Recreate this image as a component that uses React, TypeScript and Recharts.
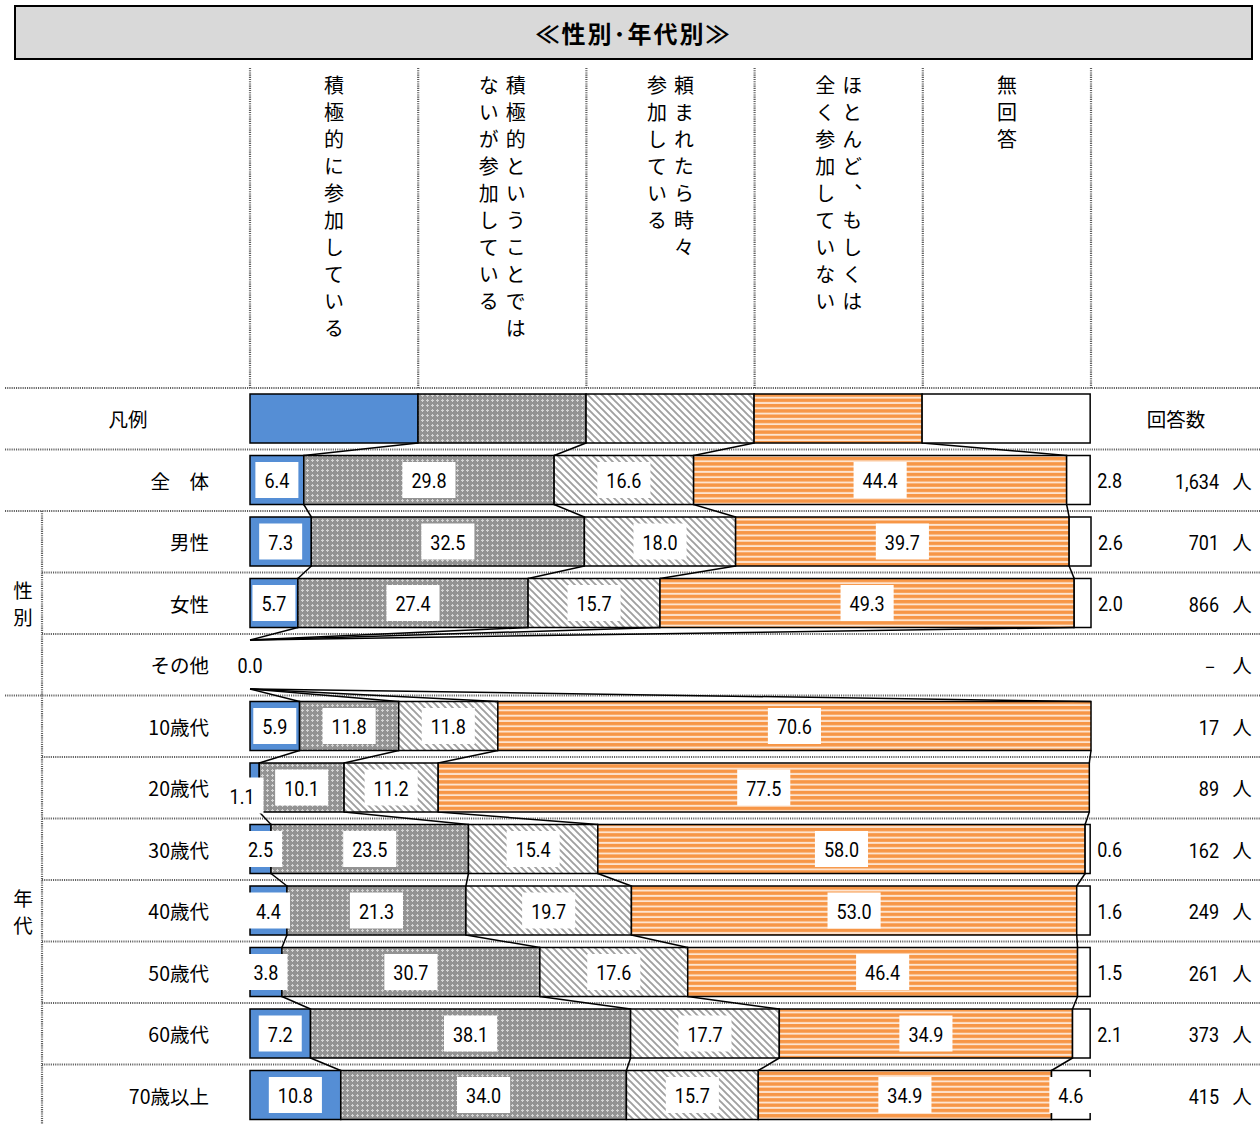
import React from 'react';
import { BarChart, Bar, XAxis, YAxis } from 'recharts';

const JP = "'Noto Sans CJK JP', 'Noto Sans', sans-serif";
const NUM = "Roboto, 'Liberation Sans', sans-serif";

const title = '≪性別･年代別≫';
const categories = ['凡例', '全　体', '男性', '女性', 'その他', '10歳代', '20歳代', '30歳代', '40歳代', '50歳代', '60歳代', '70歳以上'];
const seriesKeys = ['active', 'partly', 'sometimes', 'never', 'noAnswer'];
const seriesNames = [
  '積極的に参加している',
  '積極的ということでは\nないが参加している',
  '頼まれたら時々\n参加している',
  'ほとんど、もしくは\n全く参加していない',
  '無回答',
];
const active = [20, 6.4, 7.3, 5.7, 0, 5.9, 1.1, 2.5, 4.4, 3.8, 7.2, 10.8];
const partly = [20, 29.8, 32.5, 27.4, 0, 11.8, 10.1, 23.5, 21.3, 30.7, 38.1, 34.0];
const sometimes = [20, 16.6, 18.0, 15.7, 0, 11.8, 11.2, 15.4, 19.7, 17.6, 17.7, 15.7];
const never = [20, 44.4, 39.7, 49.3, 0, 70.6, 77.5, 58.0, 53.0, 46.4, 34.9, 34.9];
const noAnswer = [20, 2.8, 2.6, 2.0, 0, 0, 0, 0.6, 1.6, 1.5, 2.1, 4.6];
const respondents = ['', '1,634', '701', '866', '－', '17', '89', '162', '249', '261', '373', '415'];
const unitLabel = '人';
const countHeader = '回答数';
const groups = [
  { label: '性別', from: 2, to: 4 },
  { label: '年代', from: 5, to: 11 },
];

const seriesValues = [active, partly, sometimes, never, noAnswer];
const data = categories.map((name, i) => {
  const row: Record<string, any> = { name };
  seriesKeys.forEach((k, s) => {
    row[k] = seriesValues[s][i];
  });
  return row;
});

const FILLS = ['#558ED5', 'url(#pDots)', 'url(#pHatch)', 'url(#pStripe)', '#FFFFFF'];

// layout
const W = 1260;
const H = 1124;
const PLOT_TOP = 388;
const PLOT_LEFT = 250;
const PLOT_RIGHT_MARGIN = 169;
const CHART_H = 738;
const STEP = CHART_H / categories.length;
const PLOT_W = W - PLOT_LEFT - PLOT_RIGHT_MARGIN;
const NUM_SX = 0.9;

type G = { x: number; y: number; w: number; h: number };
const geom: G[][] = [[], [], [], [], []];

const fmt = (v: number) => v.toFixed(1);
const textW = (s: string) => s.split('').reduce((a, c) => a + (c === '.' || c === ',' ? 4.8 : 10.1), 0);

function NumText({ x, y, anchor, children }: { x: number; y: number; anchor: 'start' | 'middle' | 'end'; children: any }) {
  return (
    <text
      x={0}
      y={0}
      transform={`translate(${x},${y + 1.5}) scale(${NUM_SX},1)`}
      textAnchor={anchor}
      dominantBaseline="central"
      fontFamily={NUM}
      fontSize={20}
      fill="#000"
    >
      {children}
    </text>
  );
}

function renderLabels(row: number) {
  if (row === 0) return null;
  const out: any[] = [];
  for (let k = 0; k < 5; k++) {
    const g = geom[k][row];
    if (!g) continue;
    const v = seriesValues[k][row];
    if (v === 0 && k !== 0) continue;
    const s = fmt(v);
    const tw = textW(s);
    let cx = g.x + g.w / 2;
    let cy = g.y + g.h / 2;
    let anchor: 'middle' | 'start' = 'middle';
    let box = v > 0;
    if (k === 4 && g.w < tw + 8) {
      cx = g.x + g.w + 7;
      anchor = 'start';
      box = false;
    } else if (k === 0 && v > 0 && g.w < 12) {
      cx = g.x - 8;
      cy += 8;
    }
    out.push(
      <g key={k}>
        {box && <rect x={cx - tw / 2 - 9} y={cy - 18} width={tw + 18} height={36} fill="#ffffff" />}
        <NumText x={cx} y={cy} anchor={anchor}>{s}</NumText>
      </g>
    );
  }
  return <g>{out}</g>;
}

const makeShape = (k: number) => (props: any) => {
  const { x, y, width, height, index } = props;
  geom[k][index] = { x, y, w: width, h: height };
  const prev = index > 0 ? geom[k][index - 1] : undefined;
  return (
    <g>
      {width > 0.01 && (
        <rect x={x} y={y} width={width} height={height} fill={FILLS[k]} stroke="#000" strokeWidth={1.5} />
      )}
      {k < 4 && prev && (
        <line x1={prev.x + prev.w} y1={prev.y + prev.h} x2={x + width} y2={y} stroke="#000" strokeWidth={1.5} />
      )}
      {k === 4 && renderLabels(index)}
    </g>
  );
};
const shapes = seriesKeys.map((_, k) => makeShape(k));

const RowTick = (props: any) => {
  const { y, payload } = props;
  const i = categories.indexOf(payload?.value);
  const common = { fontFamily: JP, fontSize: 19.5, fill: '#000', dominantBaseline: 'central' as const };
  if (i === 0) {
    return (
      <g>
        <text x={128} y={y} textAnchor="middle" {...common}>{categories[0]}</text>
        <text x={1176} y={y} textAnchor="middle" {...common}>{countHeader}</text>
      </g>
    );
  }
  return (
    <g>
      <text x={209} y={y} textAnchor="end" {...common}>{payload?.value}</text>
      <NumText x={1219} y={y} anchor="end">{respondents[i]}</NumText>
      <text x={1242} y={y} textAnchor="middle" {...common}>{unitLabel}</text>
    </g>
  );
};

const DOT = { stroke: '#5e5e5e', strokeWidth: 2.2, strokeDasharray: '1.1 1.1' };

function Overlay() {
  const lines: any[] = [];
  for (let k = 0; k <= seriesKeys.length; k++) {
    const x = PLOT_LEFT + (k * PLOT_W) / seriesKeys.length;
    lines.push(<line key={'v' + k} x1={x} y1={68} x2={x} y2={PLOT_TOP} {...DOT} />);
  }
  for (let i = 0; i < categories.length; i++) {
    const y = PLOT_TOP + i * STEP;
    const inner = groups.some((g) => i > g.from && i <= g.to);
    lines.push(<line key={'h' + i} x1={inner ? 42 : 5} y1={y} x2={W} y2={y} {...DOT} />);
  }
  groups.forEach((g, gi) => {
    const y1 = PLOT_TOP + g.from * STEP;
    const y2 = PLOT_TOP + (g.to + 1) * STEP;
    lines.push(<line key={'g' + gi} x1={42} y1={y1} x2={42} y2={y2} {...DOT} />);
    const cy = (y1 + y2) / 2;
    const chars = g.label.split('');
    chars.forEach((c, ci) => {
      lines.push(
        <text
          key={'gt' + gi + ci}
          x={23}
          y={cy + (ci - (chars.length - 1) / 2) * 27}
          textAnchor="middle"
          dominantBaseline="central"
          fontFamily={JP}
          fontSize={19.5}
          fill="#000"
        >
          {c}
        </text>
      );
    });
  });
  return (
    <svg width={W} height={H} style={{ position: 'absolute', left: 0, top: 0 }}>
      {lines}
    </svg>
  );
}

function PatternDefs() {
  return (
    <svg width={0} height={0} style={{ position: 'absolute', left: 0, top: 0 }}>
      <defs>
        <pattern id="pDots" patternUnits="userSpaceOnUse" width={5} height={5}>
          <rect x={0} y={0} width={5} height={5} fill="#939393" />
          <rect x={2} y={1} width={1} height={3} fill="#d4d4d4" />
          <rect x={1} y={2} width={3} height={1} fill="#d4d4d4" />
        </pattern>
        <pattern id="pHatch" patternUnits="userSpaceOnUse" width={7} height={7}>
          <rect x={0} y={0} width={7} height={7} fill="#ffffff" />
          <path d="M-2,-2 L9,9 M-2,5 L2,9 M5,-2 L9,2" stroke="#a0a0a0" strokeWidth={1.9} />
        </pattern>
        <pattern id="pStripe" patternUnits="userSpaceOnUse" width={6} height={5.3}>
          <rect x={0} y={0} width={6} height={5.3} fill="#F79646" />
          <rect x={0} y={3.4} width={6} height={1.9} fill="#FDE4D0" />
        </pattern>
      </defs>
    </svg>
  );
}

function Header() {
  return (
    <>
      <div
        style={{
          position: 'absolute',
          left: 14,
          top: 5,
          width: 1239,
          height: 55,
          boxSizing: 'border-box',
          border: '2px solid #000',
          background: '#D9D9D9',
          display: 'flex',
          alignItems: 'center',
          justifyContent: 'center',
          fontFamily: JP,
          fontWeight: 700,
          fontSize: 24,
          letterSpacing: '2px',
          color: '#000',
        }}
      >
        {title}
      </div>
      {seriesNames.map((name, k) => {
        const cx = PLOT_LEFT + ((k + 0.5) * PLOT_W) / seriesNames.length;
        return (
          <div
            key={k}
            style={{
              position: 'absolute',
              left: cx,
              top: 75,
              transform: 'translateX(-50%)',
              writingMode: 'vertical-rl',
              whiteSpace: 'pre',
              fontFamily: JP,
              fontSize: 20,
              lineHeight: '27px',
              letterSpacing: '7px',
              color: '#000',
            }}
          >
            {name}
          </div>
        );
      })}
    </>
  );
}

export default function App() {
  return (
    <div style={{ position: 'absolute', left: 0, top: 0, width: W, height: H, overflow: 'hidden', background: '#fff' }}>
      <PatternDefs />
      <Overlay />
      <Header />
      <div style={{ position: 'absolute', left: 0, top: PLOT_TOP }}>
        <BarChart
          layout="vertical"
          width={W}
          height={CHART_H}
          data={data}
          margin={{ top: 0, right: PLOT_RIGHT_MARGIN, bottom: 0, left: 0 }}
          barSize={49}
        >
          <XAxis type="number" domain={[0, () => 100]} hide />
          <YAxis
            type="category"
            dataKey="name"
            width={PLOT_LEFT}
            axisLine={false}
            tickLine={false}
            interval={0}
            tick={(p: any) => <RowTick {...p} />}
          />
          {seriesKeys.map((key, k) => (
            <Bar key={key} dataKey={key} stackId="s" isAnimationActive={false} shape={shapes[k]} />
          ))}
        </BarChart>
      </div>
    </div>
  );
}
